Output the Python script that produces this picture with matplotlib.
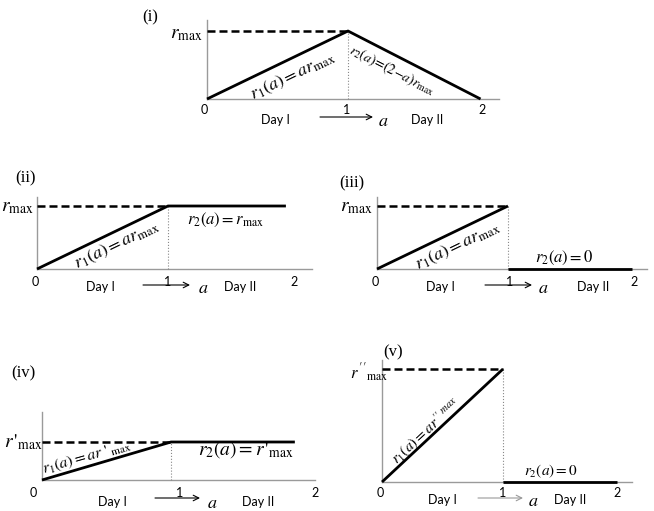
import matplotlib
matplotlib.use("Agg")
import matplotlib.pyplot as plt

plt.rcParams['mathtext.fontset'] = 'stix'
plt.rcParams['font.family'] = ['Lato', 'DejaVu Sans']

W, H = 654, 511

# ---------------- data ----------------
# panel (i)
a_i = [0, 1, 1.94]
r_i = [0, 1, 0]
# panel (ii)
a_ii = [0, 1, 1.90]
r_ii = [0, 1, 1]
# panel (iii)
a_iii_1 = [0, 1]
r_iii_1 = [0, 1]
a_iii_2 = [1, 1.95]
r_iii_2 = [0, 0]
# panel (iv)
a_iv = [0, 1, 1.96]
r_iv = [0, 1, 1]
# panel (v)
a_v_1 = [0, 1]
r_v_1 = [0, 1]
a_v_2 = [1, 1.94]
r_v_2 = [0, 0]

tick_labels = ["0", "1", "2"]
panel_labels = ["(i)", "(ii)", "(iii)", "(iv)", "(v)"]

fig = plt.figure(figsize=(W / 100, H / 100), dpi=100)

AX_COL = '#9a9a9a'


def make_panel(x0, y0, sx, sy, xmax, ymax):
    ax = fig.add_axes([x0 / W, 1 - y0 / H, xmax * sx / W, ymax * sy / H])
    ax.set_xlim(0, xmax)
    ax.set_ylim(0, ymax)
    for s in ['top', 'right']:
        ax.spines[s].set_visible(False)
    for s in ['left', 'bottom']:
        ax.spines[s].set_color(AX_COL)
        ax.spines[s].set_linewidth(1.0)
    ax.set_xticks([])
    ax.set_yticks([])
    ax.patch.set_alpha(0)

    def P(px, py):
        return (px - x0) / sx, (y0 - py) / sy
    return ax, P


def txt(ax, P, px, py, s, size=9, rot=0, family=None, color='black'):
    x, y = P(px, py)
    kw = {}
    if family:
        kw['family'] = family
    ax.text(x, y, s, fontsize=size, rotation=rot, ha='center', va='center',
            rotation_mode='anchor', clip_on=False, color=color, **kw)


def bottom(ax, P, nums, yn, day1, arrow, ya, a_x, day2, yd, arrow_col='black'):
    for lab, px in zip(tick_labels, nums):
        txt(ax, P, px, yn, lab, size=9)
    txt(ax, P, day1, yd, "Day I", size=9)
    txt(ax, P, day2, yd, "Day II", size=9)
    x1, y1 = P(arrow[0], ya)
    x2, y2 = P(arrow[1], ya)
    ax.annotate('', xy=(x2, y2), xytext=(x1, y1), annotation_clip=False,
                arrowprops=dict(arrowstyle='->', lw=0.8, color=arrow_col,
                                shrinkA=0, shrinkB=0))
    txt(ax, P, a_x, yd + 1, r"$a$", size=13)


def frame(ax, peak_a=1):
    ax.plot([0, peak_a], [1, 1], color='black', lw=1.8, ls=(0, (3.2, 1.6)),
            clip_on=False, zorder=3)
    ax.plot([peak_a, peak_a], [0, 1], color='#888888', lw=0.8, ls=':',
            clip_on=False, zorder=3)


LINE = dict(color='black', lw=2.0, clip_on=False, zorder=4,
            solid_capstyle='butt')

# ---------------- panel (i) ----------------
ax, P = make_panel(207, 99, 141, 68, 2.07, 1.16)
frame(ax)
ax.plot(a_i, r_i, **LINE)
txt(ax, P, 150, 17, panel_labels[0], size=12, family='Liberation Serif')
txt(ax, P, 186, 34, r"$r_{\mathrm{max}}$", size=14)
txt(ax, P, 293, 76, r"$r_1(a) = a r_{\mathrm{max}}$", size=13, rot=25.7)
txt(ax, P, 392, 71, r"$r_2(a)\!=\!(2\!-\!a)r_{\mathrm{max}}$", size=10, rot=-27)
bottom(ax, P, [204, 347, 482], 110, 275, (320, 373), 117, 383, 427, 120)

# ---------------- panel (ii) ----------------
ax, P = make_panel(37, 269, 131, 63, 2.10, 1.14)
frame(ax)
ax.plot(a_ii, r_ii, **LINE)
txt(ax, P, 25, 178, panel_labels[1], size=12, family='Liberation Serif')
txt(ax, P, 17, 207, r"$r_{\mathrm{max}}$", size=14)
txt(ax, P, 117, 245, r"$r_1(a) = a r_{\mathrm{max}}$", size=13, rot=25.7)
txt(ax, P, 225, 220, r"$r_2(a) = r_{\mathrm{max}}$", size=12)
bottom(ax, P, [35, 168, 294], 282, 100, (143, 190), 285, 203, 240, 287)

# ---------------- panel (iii) ----------------
ax, P = make_panel(377, 269, 131, 63, 2.06, 1.14)
frame(ax)
ax.plot(a_iii_1, r_iii_1, **LINE)
ax.plot(a_iii_2, r_iii_2, **LINE)
txt(ax, P, 352, 183, panel_labels[2], size=12, family='Liberation Serif')
txt(ax, P, 356, 207, r"$r_{\mathrm{max}}$", size=14)
txt(ax, P, 458, 246, r"$r_1(a) = a r_{\mathrm{max}}$", size=13, rot=25.7)
txt(ax, P, 564, 258, r"$r_2(a) = 0$", size=12)
bottom(ax, P, [375, 510, 634], 282, 440, (485, 532), 285, 543, 593, 287)

# ---------------- panel (iv) ----------------
ax, P = make_panel(42, 480, 129, 38, 2.12, 1.79)
frame(ax)
ax.plot(a_iv, r_iv, **LINE)
txt(ax, P, 23, 373, panel_labels[3], size=12, family='Liberation Serif')
txt(ax, P, 23, 442, r"$r\,'_{\mathrm{max}}$", size=14)
txt(ax, P, 87, 457, r"$r_1(a) = ar\ '_{\ \mathrm{max}}$", size=11.5, rot=16)
txt(ax, P, 246, 450, r"$r_2(a) = r\,'_{\mathrm{max}}$", size=14)
bottom(ax, P, [33, 180, 315], 493, 112, (155, 200), 498, 212, 258, 502)

# ---------------- panel (v) ----------------
ax, P = make_panel(382, 482, 121, 113, 2.07, 1.08)
frame(ax)
ax.plot(a_v_1, r_v_1, **LINE)
ax.plot(a_v_2, r_v_2, **LINE)
txt(ax, P, 393, 352, panel_labels[4], size=12, family='Liberation Serif')
txt(ax, P, 369, 373, r"$r\,''_{\mathrm{max}}$", size=12)
txt(ax, P, 426, 431, r"$r_1(a) = ar''^{\ max}$", size=11, rot=43)
txt(ax, P, 551, 471, r"$r_2(a) = 0$", size=11)
bottom(ax, P, [380, 503, 617], 493, 442, (478, 523), 498, 533, 570, 500,
       arrow_col='#999999')

fig.savefig("out.png", dpi=100)
